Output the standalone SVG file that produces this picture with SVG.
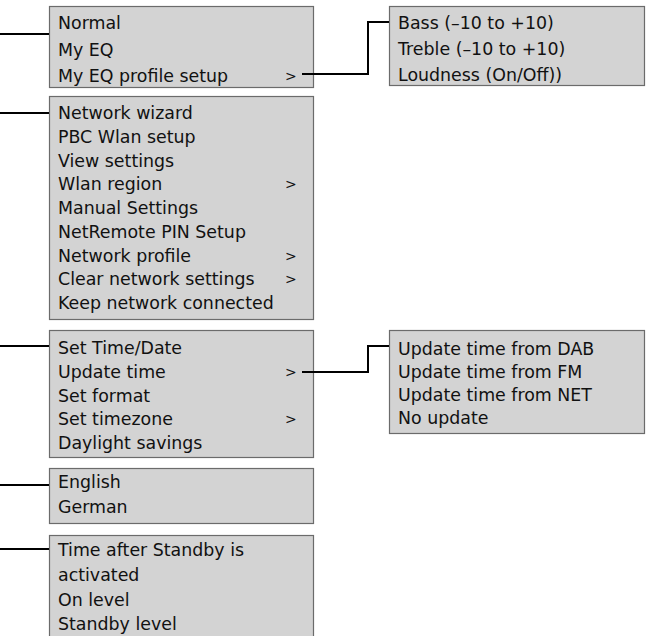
<svg xmlns="http://www.w3.org/2000/svg" width="649" height="636" viewBox="0 0 649 636">
<style>
.box{fill:#d3d3d3;stroke:#6b6b6b;stroke-width:1.2}
text{font-family:"DejaVu Sans",sans-serif;font-size:17.4px;fill:#111}
text.g{font-size:14px}
.c{fill:none;stroke:#000;stroke-width:2}
</style>
<rect width="649" height="636" fill="#fff"/>
<g id="eq">
<rect class="box" x="49.5" y="6.5" width="264" height="81"/>
<text x="58" y="29">Normal</text>
<text x="58" y="56">My EQ</text>
<text x="58" y="82">My EQ profile setup</text>
<text class="g" x="285" y="81">&gt;</text>
</g>
<g id="eq-profile">
<rect class="box" x="389.5" y="6.5" width="255" height="79"/>
<text x="398" y="29">Bass (–10 to +10)</text>
<text x="398" y="55">Treble (–10 to +10)</text>
<text x="398" y="81">Loudness (On/Off))</text>
</g>
<g id="network">
<rect class="box" x="49.5" y="96.5" width="264" height="223"/>
<text x="58" y="119">Network wizard</text>
<text x="58" y="143">PBC Wlan setup</text>
<text x="58" y="167">View settings</text>
<text x="58" y="190">Wlan region</text>
<text class="g" x="285" y="189">&gt;</text>
<text x="58" y="214">Manual Settings</text>
<text x="58" y="238">NetRemote PIN Setup</text>
<text x="58" y="262">Network profile</text>
<text class="g" x="285" y="261">&gt;</text>
<text x="58" y="285">Clear network settings</text>
<text class="g" x="285" y="284">&gt;</text>
<text x="58" y="309">Keep network connected</text>
</g>
<g id="time">
<rect class="box" x="49.5" y="330.5" width="264" height="127"/>
<text x="58" y="354">Set Time/Date</text>
<text x="58" y="378">Update time</text>
<text class="g" x="285" y="377">&gt;</text>
<text x="58" y="402">Set format</text>
<text x="58" y="425">Set timezone</text>
<text class="g" x="285" y="424">&gt;</text>
<text x="58" y="449">Daylight savings</text>
</g>
<g id="update-time">
<rect class="box" x="389.5" y="330.5" width="255" height="103"/>
<text x="398" y="355">Update time from DAB</text>
<text x="398" y="378">Update time from FM</text>
<text x="398" y="401">Update time from NET</text>
<text x="398" y="424">No update</text>
</g>
<g id="language">
<rect class="box" x="49.5" y="468.5" width="264" height="55"/>
<text x="58" y="488">English</text>
<text x="58" y="513">German</text>
</g>
<g id="dimmer">
<rect class="box" x="49.5" y="535.5" width="264" height="110"/>
<text x="58" y="556">Time after Standby is</text>
<text x="58" y="581">activated</text>
<text x="58" y="606">On level</text>
<text x="58" y="630">Standby level</text>
</g>
<g id="connectors">
<path class="c" d="M0 34H49"/>
<path class="c" d="M0 113H49"/>
<path class="c" d="M0 346H49"/>
<path class="c" d="M0 485H49"/>
<path class="c" d="M0 549H49"/>
<path class="c" d="M302 74H368V22H389"/>
<path class="c" d="M302 372H368V346H389"/>
</g>
</svg>
